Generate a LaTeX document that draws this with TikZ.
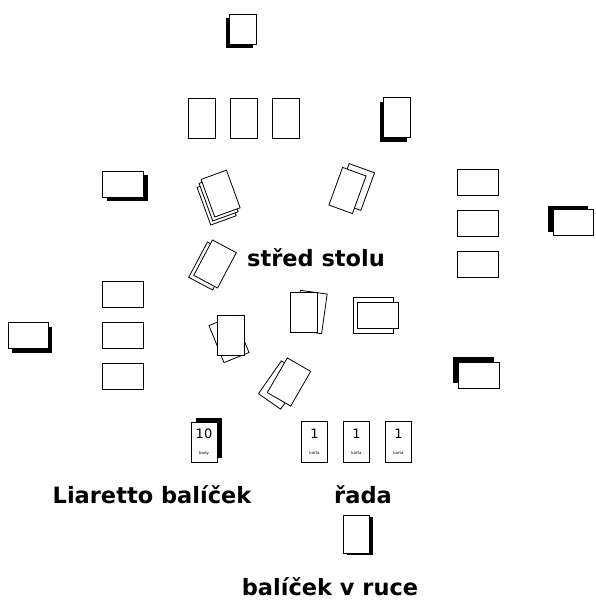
\documentclass[tikz,border=0pt]{standalone}
\usepackage{fontspec}
\setmainfont{DejaVu Sans}
\usetikzlibrary{positioning,shadows}
\tikzset{
  vcard/.style={draw, fill=white, line width=0.8pt, minimum width=27pt, minimum height=40pt, inner sep=0pt, align=center},
  hcard/.style={draw, fill=white, line width=0.8pt, minimum width=41pt, minimum height=26pt, inner sep=0pt},
  deck/.style 2 args={drop shadow={shadow xshift=#1, shadow yshift=#2, fill=black, opacity=1}},
  zone/.style={font=\bfseries\fontsize{22.5}{25}\selectfont, inner sep=0pt},
  cardnum/.style={font=\fontsize{13}{13}\selectfont}
}
\newcommand{\cardtag}[1]{\\[3pt]{\fontsize{4}{4}\selectfont #1}}

\begin{document}
\begin{tikzpicture}[x=1pt, y=-1pt]
  \useasboundingbox (0,0) rectangle (595,604);
  % players' decks round the table
  \node[vcard, minimum height=30pt, deck={-4pt}{-4pt}] (topdeck) at (243,29) {};
  \node[vcard, deck={-4pt}{-5pt}] (rtopdeck) at (397,117) {};
  \node[hcard, deck={5pt}{-4pt}] (ltopdeck) at (122.5,184) {};
  \node[hcard, minimum width=40pt, deck={-5pt}{4pt}] (rdeck) at (573,222.5) {};
  \node[hcard, minimum width=40pt, deck={4pt}{-4pt}] (ldeck) at (28,335.5) {};
  \node[hcard, deck={-5pt}{5pt}] (rlowdeck) at (478.5,375) {};
  % rows laid out
  \node[vcard] (top1) at (202,118) {};
  \node[vcard] (top2) at (244,118) {};
  \node[vcard] (top3) at (285.5,118) {};
  \node[hcard] (right1) at (477.5,182) {};
  \node[hcard] (right2) at (477.5,223) {};
  \node[hcard] (right3) at (477.5,264.5) {};
  \node[hcard] (left1) at (123,294.5) {};
  \node[hcard] (left2) at (123,335.5) {};
  \node[hcard] (left3) at (123,376) {};
  % middle of the table
  \node[vcard, rotate=20] (pileA3) at (216.6,201.6) {};
  \node[vcard, rotate=20] (pileA2) at (218.6,197.6) {};
  \node[vcard, rotate=20] (pileA1) at (220.6,193.6) {};
  \node[vcard, rotate=-20] (pileB2) at (355,187) {};
  \node[vcard, rotate=-20, minimum width=25pt] (pileB1) at (347.5,190.5) {};
  \node[vcard, rotate=-28] (pileC2) at (210,266) {};
  \node[vcard, rotate=-28] (pileC1) at (215,264) {};
  \node[vcard, rotate=22] (pileD2) at (229,339) {};
  \node[vcard] (pileD1) at (230.5,335) {};
  \node[vcard, rotate=-8] (pileE2) at (311,312) {};
  \node[vcard] (pileE1) at (303.5,312) {};
  \node[hcard, minimum width=40pt, minimum height=36pt] (pileF2) at (373,315) {};
  \node[hcard] (pileF1) at (378,315) {};
  \node[vcard, rotate=-35] (pileG2) at (281,385) {};
  \node[vcard, rotate=-30] (pileG1) at (289,382) {};
  \node[zone] (middle) at (316,258) {střed stolu};
  % bottom player
  \node[vcard, minimum width=26pt, deck={5pt}{4pt}, cardnum] (liaretto) at (204,442) {10\cardtag{body}};
  \node[vcard, minimum width=26pt, minimum height=41pt, cardnum] (row1) at (314.5,441.5) {1\cardtag{karta}};
  \node[vcard, minimum width=26pt, minimum height=41pt, cardnum] (row2) at (356.5,441.5) {1\cardtag{karta}};
  \node[vcard, minimum width=26pt, minimum height=41pt, cardnum] (row3) at (398.5,441.5) {1\cardtag{karta}};
  \node[zone] (liarettolbl) at (152,495) {Liaretto balíček};
  \node[zone] (rowlbl) at (363,495) {řada};
  \node[vcard, minimum width=26pt, minimum height=38pt, deck={4pt}{-2pt}] (hand) at (356,534) {};
  \node[zone] (handlbl) at (330,587) {balíček v ruce};
\end{tikzpicture}
\end{document}
